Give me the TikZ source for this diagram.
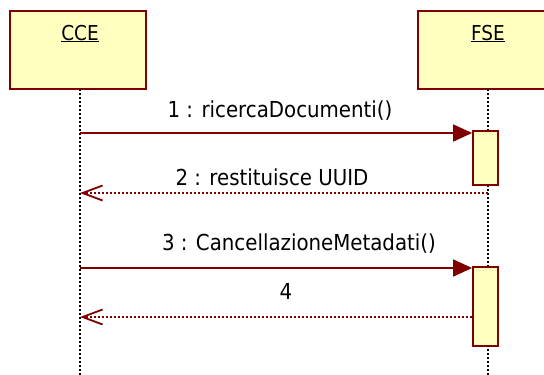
\documentclass[tikz,border=0pt]{standalone}
\usepackage{fontspec}
\setmainfont{DejaVu Sans Condensed}
\usetikzlibrary{arrows.meta}
\definecolor{umlred}{RGB}{128,0,0}
\definecolor{umlyellow}{RGB}{255,255,192}

\begin{document}
\begin{tikzpicture}[x=1pt,y=-1pt]
% Styles
\tikzstyle{object box}=[draw=umlred, fill=umlyellow, line width=1.8pt, minimum width=136pt, minimum height=78pt, inner sep=0pt]
\tikzstyle{object name}=[anchor=base, inner sep=0pt, font=\fontsize{20.5}{24}\selectfont]
\tikzstyle{activation}=[draw=umlred, fill=umlyellow, line width=1.8pt, minimum width=25pt, inner sep=0pt]
\tikzstyle{lifeline}=[line width=2pt, dash pattern=on 2pt off 2pt]
\tikzstyle{call}=[umlred, line width=1.8pt, -{Triangle[length=19pt,width=17pt]}]
\tikzstyle{reply}=[umlred, line width=1.8pt, dash pattern=on 2pt off 2pt, -{Straight Barb[length=20pt,width=15pt]}]
\tikzstyle{message text}=[anchor=base, inner sep=0pt, font=\fontsize{22}{26}\selectfont]

\useasboundingbox (0,0) rectangle (544,375);

% draw the objects
\node[object box] (cce) at (78,50) {};
\node[object box, minimum width=140pt] (fse) at (488,50) {};
\node[object name] (cceName) at (80,40) {\underline{CCE}};
\node[object name] (fseName) at (488,40) {\underline{FSE}};

% the lifelines
\coordinate (cceTop) at (80,89);
\coordinate (cceEnd) at (80,375);
\coordinate (fseTop) at (488,89);
\coordinate (fseEnd) at (488,375);
\draw[lifeline] (cceTop) -- (cceEnd);
\draw[lifeline] (fseTop) -- (fseEnd);

% activations on FSE
\node[activation, minimum height=54pt] (act1) at (485.5,158) {};
\node[activation, minimum height=79pt] (act2) at (485.5,306.5) {};

% we add the messages
\coordinate (m1) at (80,133);
\coordinate (m2) at (80,193);
\coordinate (m3) at (80,268);
\coordinate (m4) at (80,317);
\draw[call] (m1) -- (act1.west |- m1);
\draw[reply] (fseTop |- m2) -- (m2);
\draw[call] (m3) -- (act2.west |- m3);
\draw[reply] (act2.west |- m4) -- (m4);

\node[message text] (t1) at (280,117) {1 : ricercaDocumenti()};
\node[message text] (t2) at (272,185) {2 : restituisce UUID};
\node[message text] (t3) at (299,250) {3 : CancellazioneMetadati()};
\node[message text] (t4) at (286,299) {4};

\end{tikzpicture}
\end{document}
